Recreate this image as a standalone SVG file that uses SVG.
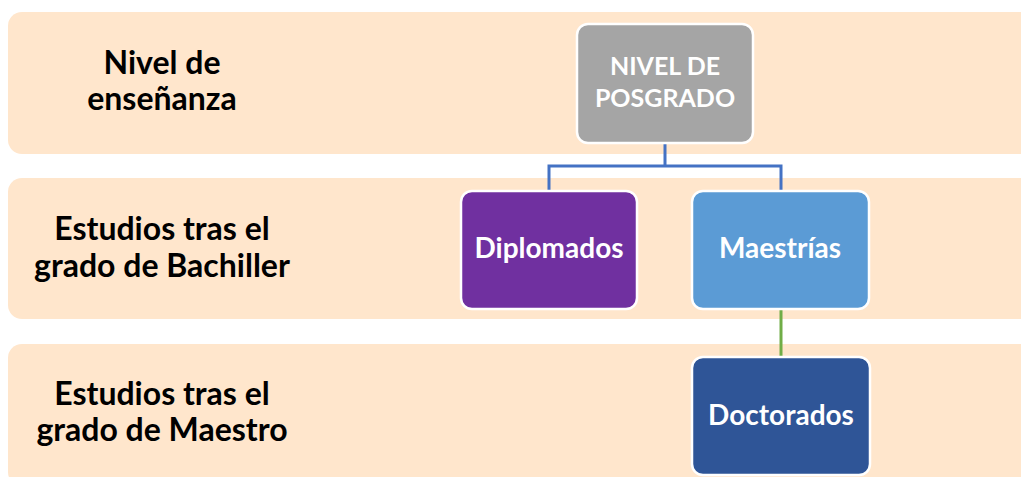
<svg xmlns="http://www.w3.org/2000/svg" width="1021" height="477" viewBox="0 0 1021 477">
<style>
.band{fill:#FFE6CC}
.lbl{font-family:Lato,"Open Sans",sans-serif;font-weight:bold;font-size:32px;fill:#000;text-anchor:middle}
.node{stroke:#fff;stroke-width:2.5}
.ntx{font-family:Lato,"Open Sans",sans-serif;font-weight:bold;font-size:28px;fill:#fff;text-anchor:middle}
.cap{font-size:25px}
.conn{fill:none;stroke-width:3}
</style>
<rect width="1021" height="477" fill="#fff"/>
<g id="band1">
<rect class="band" x="8" y="12" width="1040" height="142" rx="14"/>
<text class="lbl" x="162" y="74">Nivel de</text>
<text class="lbl" x="162" y="110">enseñanza</text>
</g>
<g id="band2">
<rect class="band" x="8" y="178" width="1040" height="141" rx="14"/>
<text class="lbl" x="162" y="240">Estudios tras el</text>
<text class="lbl" x="162" y="277">grado de Bachiller</text>
</g>
<g id="band3">
<rect class="band" x="8" y="344" width="1040" height="142" rx="14"/>
<text class="lbl" x="162" y="405">Estudios tras el</text>
<text class="lbl" x="162" y="441">grado de Maestro</text>
</g>
<g id="connectors">
<path class="conn" stroke="#4472C4" d="M665 143 V166 M549 191 V166 H781 V191"/>
<path class="conn" stroke="#70AD47" d="M781 309 V357"/>
</g>
<g id="posgrado">
<rect class="node" x="577" y="24" width="176" height="119" rx="11" fill="#A5A5A5"/>
<text class="ntx cap" x="665" y="75">NIVEL DE</text>
<text class="ntx cap" x="665" y="107">POSGRADO</text>
</g>
<g id="diplomados">
<rect class="node" x="461" y="191" width="176" height="118" rx="11" fill="#7030A0"/>
<text class="ntx" x="549" y="258">Diplomados</text>
</g>
<g id="maestrias">
<rect class="node" x="692" y="191" width="177" height="118" rx="11" fill="#5B9BD5"/>
<text class="ntx" x="780" y="258">Maestrías</text>
</g>
<g id="doctorados">
<rect class="node" x="692" y="357" width="178" height="118" rx="11" fill="#2F5597"/>
<text class="ntx" x="781" y="425">Doctorados</text>
</g>
</svg>
